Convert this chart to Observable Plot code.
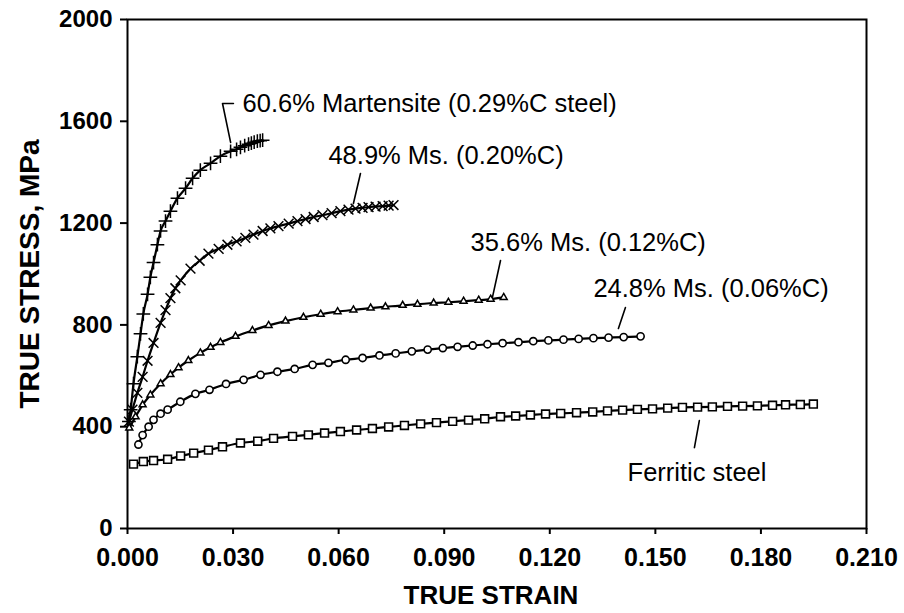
<!DOCTYPE html>
<html>
<head>
<meta charset="utf-8">
<script src="https://cdn.jsdelivr.net/npm/d3@7"></script>
<script src="https://cdn.jsdelivr.net/npm/@observablehq/plot@0.6"></script>
<style>
  body { margin: 0; background: #fff; }
</style>
</head>
<body>
<div id="chart"></div>
<script>
// Axis ticks
const xTicks = [0, 0.03, 0.06, 0.09, 0.12, 0.15, 0.18, 0.21];
const yTicks = [0, 400, 800, 1200, 1600, 2000];

// 60.6% martensite (0.29%C steel)
const m606Strain = [0.0004, 0.0009, 0.0017, 0.0028, 0.0037, 0.0045, 0.0057, 0.0065, 0.0074, 0.0085, 0.0094, 0.0108, 0.0122, 0.0142, 0.0165, 0.0185, 0.0207, 0.0236, 0.0264, 0.0293, 0.0310, 0.0321, 0.0333, 0.0344, 0.0352, 0.0360, 0.0369, 0.0377, 0.0384];
const m606Stress = [420, 467, 569, 675, 765, 843, 920, 987, 1045, 1115, 1169, 1208, 1247, 1298, 1337, 1376, 1408, 1435, 1463, 1482, 1490, 1498, 1504, 1510, 1514, 1518, 1522, 1524, 1526];

// 48.9% martensite (0.20%C)
const m489Strain = [0.0004, 0.0014, 0.0028, 0.0043, 0.0057, 0.0074, 0.0094, 0.0108, 0.0122, 0.0136, 0.0151, 0.0179, 0.0205, 0.0230, 0.0259, 0.0284, 0.0310, 0.0335, 0.0358, 0.0384, 0.0406, 0.0429, 0.0458, 0.0483, 0.0506, 0.0529, 0.0554, 0.0580, 0.0605, 0.0628, 0.0648, 0.0668, 0.0685, 0.0705, 0.0725, 0.0742, 0.0756];
const m489Stress = [420, 467, 533, 596, 659, 729, 808, 858, 905, 944, 975, 1021, 1052, 1080, 1099, 1115, 1128, 1142, 1155, 1169, 1179, 1188, 1198, 1208, 1216, 1224, 1231, 1239, 1247, 1253, 1257, 1260, 1263, 1265, 1267, 1269, 1271];

// 35.6% martensite (0.12%C)
const m356Strain = [0.0005, 0.0023, 0.0043, 0.0065, 0.0094, 0.0122, 0.0145, 0.0173, 0.0207, 0.0236, 0.0264, 0.0307, 0.0355, 0.0401, 0.0449, 0.0500, 0.0549, 0.0597, 0.0642, 0.0691, 0.0733, 0.0782, 0.0824, 0.0870, 0.0912, 0.0955, 0.0998, 0.1032, 0.1069];
const m356Stress = [395, 439, 486, 525, 569, 605, 632, 660, 690, 712, 731, 755, 778, 798, 815, 830, 842, 852, 859, 866, 871, 877, 881, 886, 889, 893, 897, 901, 908];

// 24.8% martensite (0.06%C)
const m248Strain = [0.0031, 0.0043, 0.0060, 0.0074, 0.0094, 0.0114, 0.0150, 0.0193, 0.0233, 0.0280, 0.0330, 0.0378, 0.0426, 0.0475, 0.0526, 0.0571, 0.0620, 0.0668, 0.0716, 0.0762, 0.0808, 0.0853, 0.0896, 0.0938, 0.0981, 0.1023, 0.1066, 0.1111, 0.1153, 0.1196, 0.1239, 0.1282, 0.1324, 0.1367, 0.1410, 0.1458];
const m248Stress = [330, 367, 400, 427, 451, 467, 498, 529, 545, 568, 584, 604, 616, 627, 643, 651, 663, 670, 680, 688, 696, 703, 709, 714, 719, 724, 728, 732, 736, 739, 742, 745, 748, 750, 752, 755];

// Ferritic steel
const ferStrain = [0.0017, 0.0045, 0.0074, 0.0114, 0.0151, 0.0188, 0.0230, 0.0270, 0.0321, 0.0370, 0.0415, 0.0469, 0.0514, 0.0560, 0.0605, 0.0651, 0.0696, 0.0742, 0.0787, 0.0833, 0.0878, 0.0924, 0.0969, 0.1015, 0.1060, 0.1103, 0.1145, 0.1188, 0.1231, 0.1276, 0.1322, 0.1364, 0.1407, 0.1449, 0.1492, 0.1535, 0.1577, 0.1620, 0.1662, 0.1705, 0.1748, 0.1790, 0.1833, 0.1870, 0.1912, 0.1949];
const ferStress = [253, 263, 267, 272, 285, 296, 308, 321, 336, 343, 354, 362, 368, 375, 381, 387, 393, 399, 405, 411, 416, 421, 426, 431, 439, 442, 446, 450, 452, 455, 458, 462, 465, 468, 470, 473, 476, 477, 478, 480, 481, 482, 484, 486, 487, 489];

// Curve labels and their leader lines
const labelText = ["60.6% Martensite (0.29%C steel)", "48.9% Ms. (0.20%C)", "35.6% Ms. (0.12%C)", "24.8% Ms. (0.06%C)", "Ferritic steel"];
const labelStrain = [0.0327, 0.0571, 0.0975, 0.1324, 0.1421];
const labelStress = [1668, 1466, 1124, 943, 220];
const leaderStrain = [[0.0301, 0.0270, 0.0293], [0.0662, 0.0642], [0.1060, 0.1037], [0.1415, 0.1395], [0.1625, 0.1611]];
const leaderStress = [[1670, 1670, 1517], [1395, 1277], [1053, 908], [868, 786], [424, 318]];

const rows = (series, strain, stress) => strain.map((s, i) => ({series, strain: s, stress: stress[i]}));
const m606 = rows("m606", m606Strain, m606Stress);
const m489 = rows("m489", m489Strain, m489Stress);
const m356 = rows("m356", m356Strain, m356Stress);
const m248 = rows("m248", m248Strain, m248Stress);
const fer = rows("fer", ferStrain, ferStress);
const curves = [...m606, ...m489, ...m356, ...m248, ...fer];

const leaders = leaderStrain.flatMap((xs, k) => xs.map((x, j) => ({id: k, strain: x, stress: leaderStress[k][j]})));
const labels = labelText.map((t, i) => ({text: t, strain: labelStrain[i], stress: labelStress[i]}));

const font = "'Liberation Sans', Arial, Helvetica, sans-serif";

const chart = Plot.plot({
  width: 904,
  height: 613,
  marginLeft: 127,
  marginRight: 38,
  marginTop: 19,
  marginBottom: 85,
  style: {fontFamily: font, background: "#fff", color: "#000"},
  x: {domain: [0, 0.21]},
  y: {domain: [0, 2000]},
  marks: [
    Plot.axisX({ticks: xTicks, tickFormat: d3.format(".3f"), tickSize: 6, tickPadding: 14, fontSize: 25, fontWeight: "bold", strokeWidth: 2, label: null}),
    Plot.axisY({ticks: yTicks, tickFormat: d3.format("d"), tickSize: 7, tickPadding: 8, fontSize: 24, fontWeight: "bold", strokeWidth: 2, label: null}),
    Plot.frame({stroke: "#000", strokeWidth: 2}),
    Plot.text(["TRUE STRAIN"], {frameAnchor: "bottom", dy: 57, dx: -6, lineAnchor: "top", fontSize: 26, fontWeight: "bold"}),
    Plot.text(["TRUE STRESS, MPa"], {frameAnchor: "left", dx: -97, rotate: -90, textAnchor: "middle", lineAnchor: "middle", fontSize: 28, fontWeight: "bold"}),
    Plot.line(curves, {x: "strain", y: "stress", z: "series", curve: "monotone-x", stroke: "#000", strokeWidth: 2.2}),
    Plot.dot(m606, {x: "strain", y: "stress", symbol: "plus", r: 4.5, stroke: "#000", strokeWidth: 1.5}),
    Plot.dot(m489, {x: "strain", y: "stress", symbol: "times", r: 4.5, stroke: "#000", strokeWidth: 1.5}),
    Plot.dot(m356, {x: "strain", y: "stress", symbol: "triangle2", r: 3.3, fill: "#fff", stroke: "#000", strokeWidth: 1.5}),
    Plot.dot(m248, {x: "strain", y: "stress", symbol: "circle", r: 3.6, fill: "#fff", stroke: "#000", strokeWidth: 1.6}),
    Plot.dot(fer, {x: "strain", y: "stress", symbol: "square", r: 4.4, fill: "#fff", stroke: "#000", strokeWidth: 1.6}),
    Plot.line(leaders, {x: "strain", y: "stress", z: "id", stroke: "#000", strokeWidth: 1.6}),
    Plot.text(labels, {x: "strain", y: "stress", text: "text", textAnchor: "start", lineAnchor: "middle", fontSize: 25.5, fill: "#000"})
  ]
});
document.getElementById("chart").appendChild(chart);
</script>
</body>
</html>
